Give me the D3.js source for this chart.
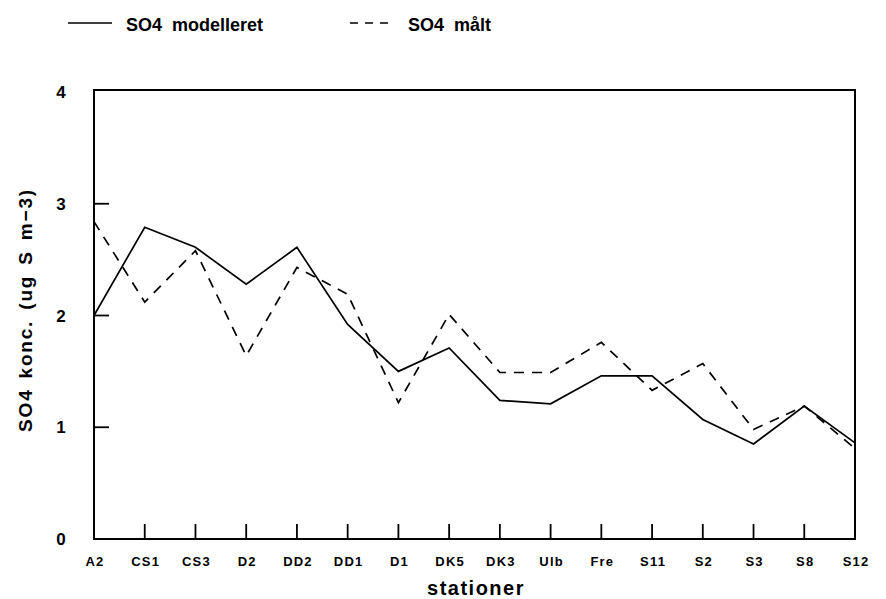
<!DOCTYPE html>
<html lang="da">
<head>
    <meta charset="UTF-8">
    <title>SO4 modelleret / målt</title>
    <script src="https://cdn.jsdelivr.net/npm/d3@7"></script>
    <style>
        body { margin: 0; background: #fff; }
        text {
            font-family: "Liberation Sans", Arial, sans-serif;
            font-weight: bold;
            fill: #000;
        }
        .axis-line { stroke: #000; stroke-width: 2; fill: none; }
        .tick-mark { stroke: #000; stroke-width: 1.8; }
        .serie { fill: none; stroke: #000; stroke-width: 1.7; stroke-linejoin: miter; }
    </style>
</head>
<body>
<script>
    // stationer langs x-aksen
    const stationer = ['A2', 'CS1', 'CS3', 'D2', 'DD2', 'DD1', 'D1', 'DK5',
        'DK3', 'Ulb', 'Fre', 'S11', 'S2', 'S3', 'S8', 'S12'];
    // modellerede værdier (ug S m-3)
    const modelleret = [2.0, 2.79, 2.61, 2.28, 2.61, 1.92, 1.50, 1.71,
        1.24, 1.21, 1.46, 1.46, 1.07, 0.85, 1.19, 0.86];
    // målte værdier
    const maalt = [2.84, 2.12, 2.58, 1.64, 2.43, 2.19, 1.22, 2.01,
        1.49, 1.49, 1.76, 1.33, 1.57, 0.98, 1.19, 0.81];
    // y-aksens tal
    const yTicks = [0, 1, 2, 3, 4];

    const width = 886, height = 599;
    const margin = {left: 94, right: 31, top: 92, bottom: 60};

    const svg = d3.select('body').append('svg')
        .attr('width', width).attr('height', height);

    const x = d3.scalePoint()
        .domain(stationer)
        .range([margin.left, width - margin.right]);
    const y = d3.scaleLinear()
        .domain([0, 4])
        .range([height - margin.bottom, margin.top]);

    // ramme
    svg.append('rect')
        .attr('class', 'axis-line')
        .attr('x', margin.left).attr('y', y(4) - 2)
        .attr('width', x('S12') - margin.left)
        .attr('height', y(0) - y(4) + 2);

    // y-akse streger (indad)
    svg.append('g').selectAll('line')
        .data(yTicks.slice(1, 4))
        .join('line')
        .attr('class', 'tick-mark')
        .attr('x1', margin.left).attr('x2', margin.left + 15)
        .attr('y1', d => y(d)).attr('y2', d => y(d));

    svg.append('g').selectAll('text')
        .data(yTicks)
        .join('text')
        .attr('x', 61)
        .attr('y', d => y(d) + 6)
        .attr('text-anchor', 'middle')
        .style('font-size', '17px')
        .text(d => d);

    // x-akse streger (opad)
    svg.append('g').selectAll('line')
        .data(stationer.slice(1, -1))
        .join('line')
        .attr('class', 'tick-mark')
        .attr('x1', d => x(d)).attr('x2', d => x(d))
        .attr('y1', y(0)).attr('y2', y(0) - 15);

    svg.append('g').selectAll('text')
        .data(stationer)
        .join('text')
        .attr('x', d => x(d) + 1)
        .attr('y', y(0) + 27)
        .attr('text-anchor', 'middle')
        .style('font-size', '13px')
        .style('letter-spacing', '1.2px')
        .text(d => d);

    // aksetitler
    svg.append('text')
        .attr('x', 476).attr('y', 595)
        .attr('text-anchor', 'middle')
        .style('font-size', '20px')
        .style('letter-spacing', '1.5px')
        .text('stationer');

    svg.append('text')
        .attr('transform', 'translate(32,310) rotate(-90)')
        .attr('text-anchor', 'middle')
        .style('font-size', '19px')
        .style('letter-spacing', '1.8px')
        .style('word-spacing', '3px')
        .text('SO4 konc. (ug S m−3)');

    // kurver
    const line = d3.line()
        .x((d, i) => x(stationer[i]))
        .y(d => y(d));

    svg.append('path')
        .attr('class', 'serie')
        .attr('d', line(modelleret));

    svg.append('path')
        .attr('class', 'serie')
        .attr('stroke-dasharray', '10,8')
        .attr('d', line(maalt));

    // legende
    const legend = svg.append('g');
    legend.append('line')
        .attr('class', 'serie')
        .attr('x1', 68).attr('x2', 112).attr('y1', 23).attr('y2', 23);
    legend.append('text')
        .attr('x', 126).attr('y', 31)
        .style('font-size', '18px')
        .style('word-spacing', '5px')
        .text('SO4 modelleret');
    legend.append('line')
        .attr('class', 'serie')
        .attr('stroke-dasharray', '8,7')
        .attr('x1', 350).attr('x2', 389).attr('y1', 23).attr('y2', 23);
    legend.append('text')
        .attr('x', 408).attr('y', 31)
        .style('font-size', '18px')
        .style('word-spacing', '5px')
        .text('SO4 målt');
</script>
</body>
</html>
